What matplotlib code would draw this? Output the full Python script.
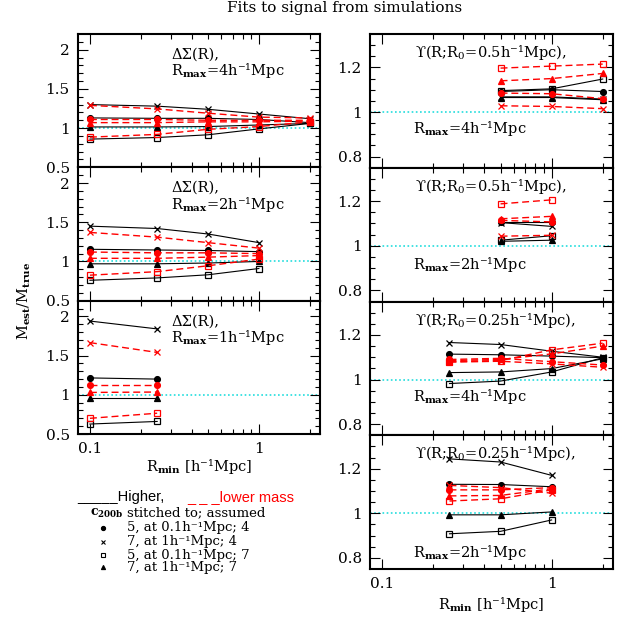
import matplotlib
matplotlib.use("Agg")
import matplotlib.pyplot as plt
from matplotlib.lines import Line2D
from matplotlib.ticker import FixedLocator, NullFormatter, FixedFormatter

plt.rcParams['font.family'] = ['DejaVu Serif']
plt.rcParams['mathtext.fontset'] = 'dejavuserif'

# ---------------- data ----------------
markers = ['o', 'x', 's', '^']

x_L1 = [0.1, 0.25, 0.5, 1, 2]
L1_hi = {'o': [1.13, 1.125, 1.125, 1.11, 1.07], 'x': [1.30, 1.28, 1.24, 1.18, 1.12],
         's': [0.86, 0.88, 0.915, 0.99, 1.06], '^': [1.015, 1.015, 1.02, 1.04, 1.06]}
L1_lo = {'o': [1.11, 1.11, 1.10, 1.10, 1.10], 'x': [1.29, 1.245, 1.19, 1.14, 1.13],
         's': [0.885, 0.92, 0.985, 1.02, 1.08], '^': [1.07, 1.07, 1.08, 1.08, 1.09]}

x_L2 = [0.1, 0.25, 0.5, 1]
L2_hi = {'o': [1.155, 1.146, 1.14, 1.125], 'x': [1.45, 1.42, 1.35, 1.24],
         's': [0.76, 0.79, 0.83, 0.91], '^': [0.97, 0.97, 0.98, 1.0]}
L2_lo = {'o': [1.12, 1.11, 1.11, 1.10], 'x': [1.37, 1.31, 1.24, 1.17],
         's': [0.825, 0.87, 0.945, 1.03], '^': [1.04, 1.04, 1.055, 1.075]}

x_L3 = [0.1, 0.25]
L3_hi = {'o': [1.215, 1.20], 'x': [1.94, 1.84], 's': [0.627, 0.66], '^': [0.965, 0.965]}
L3_lo = {'o': [1.13, 1.13], 'x': [1.665, 1.54], 's': [0.70, 0.765], '^': [1.03, 1.035]}

x_R1 = [0.5, 1, 2]
R1_hi = {'o': [1.092, 1.10, 1.092], 'x': [1.068, 1.068, 1.058],
         's': [1.096, 1.104, 1.148], '^': [1.065, 1.065, 1.055]}
R1_lo = {'o': [1.085, 1.082, 1.06], 'x': [1.028, 1.025, 1.015],
         's': [1.197, 1.206, 1.215], '^': [1.14, 1.15, 1.173]}

x_R2 = [0.5, 1]
R2_hi = {'o': [1.107, 1.107], 'x': [1.104, 1.087], 's': [1.025, 1.045], '^': [1.02, 1.025]}
R2_lo = {'o': [1.114, 1.107], 'x': [1.043, 1.047], 's': [1.188, 1.206], '^': [1.121, 1.132]}

x_R3 = [0.25, 0.5, 1, 2]
R3_hi = {'o': [1.114, 1.111, 1.105, 1.098], 'x': [1.166, 1.157, 1.127, 1.10],
         's': [0.982, 0.993, 1.034, 1.098], '^': [1.031, 1.034, 1.049, 1.093]}
R3_lo = {'o': [1.09, 1.095, 1.08, 1.065], 'x': [1.078, 1.082, 1.07, 1.055],
         's': [1.08, 1.085, 1.133, 1.163], '^': [1.085, 1.09, 1.115, 1.15]}

x_R4 = [0.25, 0.5, 1]
R4_hi = {'o': [1.13, 1.129, 1.119], 'x': [1.244, 1.23, 1.17],
         's': [0.908, 0.919, 0.97], '^': [0.993, 0.993, 1.006]}
R4_lo = {'o': [1.105, 1.105, 1.115], 'x': [1.125, 1.115, 1.09],
         's': [1.055, 1.065, 1.105], '^': [1.078, 1.08, 1.11]}

left_titles = ["ΔΣ(R),", "ΔΣ(R),", "ΔΣ(R),"]
left_rmax = ["4", "2", "1"]
right_titles = ["ϒ(R;R$_0$=0.5h⁻¹Mpc),", "ϒ(R;R$_0$=0.5h⁻¹Mpc),",
                "ϒ(R;R$_0$=0.25h⁻¹Mpc),", "ϒ(R;R$_0$=0.25h⁻¹Mpc),"]
right_rmax = ["4", "2", "4", "2"]

legend_labels = ["5, at 0.1h⁻¹Mpc; 4", "7, at 1h⁻¹Mpc; 4",
                 "5, at 0.1h⁻¹Mpc; 7", "7, at 1h⁻¹Mpc; 7"]

# ---------------- figure ----------------
W, H = 624, 623
fig = plt.figure(figsize=(W / 100, H / 100), dpi=100)


def ax_px(x0, x1, ytop, ybot):
    return fig.add_axes([x0 / W, (H - ybot) / H, (x1 - x0) / W, (ybot - ytop) / H])


FS = 11
AFS = 10.5
LFS = 9.5


def style(ax, ylim, ymaj, ymin_ticks, ylabels, show_x):
    ax.set_xscale('log')
    ax.set_xlim(0.085, 2.3)
    ax.set_ylim(*ylim)
    ax.xaxis.set_major_locator(FixedLocator([0.1, 1]))
    ax.xaxis.set_minor_locator(FixedLocator([0.2, 0.3, 0.4, 0.5, 0.6, 0.7, 0.8, 0.9, 2]))
    ax.xaxis.set_minor_formatter(NullFormatter())
    if show_x:
        ax.xaxis.set_major_formatter(FixedFormatter(["0.1", "1"]))
    else:
        ax.xaxis.set_major_formatter(NullFormatter())
    ax.yaxis.set_major_locator(FixedLocator(ymaj))
    ax.yaxis.set_major_formatter(FixedFormatter(ylabels))
    ax.yaxis.set_minor_locator(FixedLocator(ymin_ticks))
    ax.tick_params(which='both', direction='in', top=True, right=True, labelsize=FS, width=0.8)
    ax.tick_params(which='major', length=7.5, pad=6)
    ax.tick_params(which='minor', length=3.8)
    for s in ax.spines.values():
        s.set_linewidth(1.5)
    ax.axhline(1.0, color='#22dddd', lw=1.2, ls=(0, (1, 1.5)), zorder=1)


def draw(ax, xs, hi, lo):
    for m in markers:
        kw = dict(ms=4.2 if m != 'x' else 4.5, mew=0.9)
        mfc_hi = 'none' if m == 's' else 'black'
        ax.plot(xs, hi[m], color='black', lw=0.8, marker=m, mfc=mfc_hi, mec='black', zorder=3, **kw)
    for m in markers:
        kw = dict(ms=4.2 if m != 'x' else 4.5, mew=0.9)
        mfc_lo = 'none' if m == 's' else 'red'
        ax.plot(xs, lo[m], color='red', lw=1.0, ls=(0, (5, 2.8)), marker=m, mfc=mfc_lo,
                mec='red', zorder=4, **kw)


# left column
lx0, lx1 = 78, 320
ltop, lbot = 34, 434
lh = (lbot - ltop) / 3
left_data = [(x_L1, L1_hi, L1_lo), (x_L2, L2_hi, L2_lo), (x_L3, L3_hi, L3_lo)]
for i, (xs, hi, lo) in enumerate(left_data):
    ax = ax_px(lx0, lx1, ltop + i * lh, ltop + (i + 1) * lh)
    style(ax, (0.5, 2.2), [0.5, 1, 1.5, 2],
          [0.6, 0.7, 0.8, 0.9, 1.1, 1.2, 1.3, 1.4, 1.6, 1.7, 1.8, 1.9, 2.1],
          ["0.5", "1", "1.5", "2"], i == 2)
    draw(ax, xs, hi, lo)
    ax.text(0.385, 0.845, left_titles[i], transform=ax.transAxes, fontsize=AFS,
            ha='left', va='center')
    ax.text(0.385, 0.725, r"R$_{\mathbf{max}}$=" + left_rmax[i] + "h⁻¹Mpc",
            transform=ax.transAxes, fontsize=AFS, ha='left', va='center')

# right column
rx0, rx1 = 370, 613
rtop, rbot = 34, 569
rh = (rbot - rtop) / 4
right_data = [(x_R1, R1_hi, R1_lo), (x_R2, R2_hi, R2_lo), (x_R3, R3_hi, R3_lo), (x_R4, R4_hi, R4_lo)]
rmax_y = [0.29, 0.28, 0.286, 0.12]
for i, (xs, hi, lo) in enumerate(right_data):
    ax = ax_px(rx0, rx1, rtop + i * rh, rtop + (i + 1) * rh)
    style(ax, (0.75, 1.35), [0.8, 1.0, 1.2],
          [0.85, 0.9, 0.95, 1.05, 1.1, 1.15, 1.25, 1.3],
          ["0.8", "1", "1.2"], i == 3)
    draw(ax, xs, hi, lo)
    ax.text(0.185, 0.86, right_titles[i], transform=ax.transAxes, fontsize=AFS,
            ha='left', va='center')
    ax.text(0.176, rmax_y[i], r"R$_{\mathbf{max}}$=" + right_rmax[i] + "h⁻¹Mpc",
            transform=ax.transAxes, fontsize=AFS, ha='left', va='center')


def ftext(x, y, s, **kw):
    fig.text(x / W, 1 - y / H, s, **kw)


ftext(345, 8, "Fits to signal from simulations", fontsize=FS, ha='center', va='center')
ftext(24, 301, r"M$_{\mathbf{est}}$/M$_{\mathbf{true}}$", fontsize=AFS, rotation=90,
      ha='center', va='center')
ftext(199, 466, r"R$_{\mathbf{min}}$ [h⁻¹Mpc]", fontsize=AFS, ha='center', va='center')
ftext(491, 604, r"R$_{\mathbf{min}}$ [h⁻¹Mpc]", fontsize=AFS, ha='center', va='center')

# legend
ftext(77, 497, "_____Higher,", fontsize=10.5, family='Liberation Sans', ha='left', va='center')
ftext(187, 497, "_ _ _lower mass", fontsize=10.5, family='Liberation Sans', color='red',
      ha='left', va='center')
ftext(90, 513, r"$\mathbf{c}_{\mathbf{200b}}$", fontsize=9, family='DejaVu Sans',
      ha='left', va='center')
ftext(127, 513, "stitched to; assumed", fontsize=LFS, ha='left', va='center')
leg_y = [528, 542, 555, 567]
for m, yy, lab in zip(markers, leg_y, legend_labels):
    fig.add_artist(Line2D([103 / W], [1 - yy / H], marker=m, ms=3, mew=0.8,
                          mfc='none' if m == 's' else 'black', mec='black', ls='none',
                          transform=fig.transFigure))
    ftext(127, yy, lab, fontsize=LFS, ha='left', va='center')

fig.savefig("out.png", dpi=100)
